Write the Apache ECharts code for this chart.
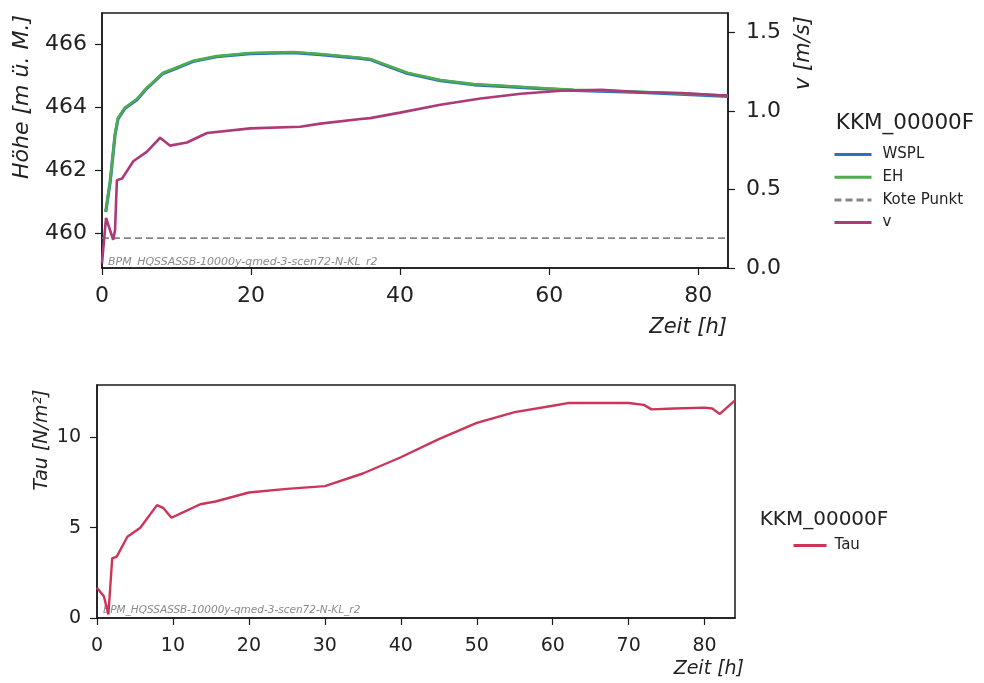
<!DOCTYPE html>
<html><head><meta charset="utf-8">
<script src="https://cdn.jsdelivr.net/npm/echarts@6/dist/echarts.min.js"></script>
<style>html,body{margin:0;padding:0;background:#fff}#c{width:984px;height:683px}</style>
</head><body><div id="c"></div>
<script>
// ---- data ----
var hoursH = [0.5,1.1,1.75,2.15,3.1,4.7,6.0,8.2,9.5,12.2,15.4,19.9,25.7,29.3,34.7,36,37.8,41,45.4,49.9,54.4,58.9,63.3,72.3,79,84];
var wspl   = [460.68,461.64,463.13,463.64,463.98,464.25,464.6,465.08,465.2,465.46,465.61,465.71,465.74,465.68,465.56,465.52,465.36,465.08,464.85,464.72,464.66,464.6,464.54,464.48,464.41,464.35];
var eh     = [460.70,461.67,463.16,463.67,464.0,464.27,464.62,465.1,465.22,465.48,465.63,465.73,465.76,465.7,465.58,465.54,465.38,465.1,464.87,464.74,464.68,464.62,464.56,464.5,464.43,464.37];
var hoursKote = [0,84];
var kote = [459.85,459.85];
var hoursV = [0,0.54,0.8,1.5,1.75,2.0,2.7,4.2,6.0,7.8,9.1,11.4,14.1,19.9,26.6,29.3,34.7,36,40,45.4,50.8,56.2,61.6,67,72.3,77.7,83,84];
var vValues = [0.03,0.32,0.32,0.18,0.24,0.56,0.57,0.68,0.74,0.83,0.78,0.80,0.86,0.89,0.90,0.92,0.95,0.955,0.99,1.04,1.08,1.11,1.13,1.135,1.12,1.115,1.10,1.10];
var hoursTau = [0,0.9,1.5,2.0,2.6,4.0,5.7,7.9,8.7,9.8,11.6,13.6,15.6,20,25,30,35,40,45,50,55,60,62,70,72,73,76,80,81,82,84];
var tau = [1.67,1.2,0.2,3.3,3.4,4.5,5.0,6.25,6.1,5.55,5.9,6.3,6.45,6.95,7.15,7.3,8.0,8.9,9.9,10.8,11.4,11.75,11.9,11.9,11.8,11.55,11.6,11.65,11.6,11.3,12.05];
var ticksH = [460,462,464,466];
var ticksV = [0,0.5,1.0,1.5];
var ticksTau = [0,5,10];
var ticksXTop = [0,20,40,60,80];
var ticksXBot = [0,10,20,30,40,50,60,70,80];
var legendTitle = 'KKM_00000F';
var watermark = 'BPM_HQSSASSB-10000y-qmed-3-scen72-N-KL_r2';

function pairs(xs, ys){ return xs.map(function(x,i){return [x, ys[i]];}); }

var F = 'DejaVu Sans';
var black = '#1a1a1a';
function xAxis(grid, ticks, fs, margin){
  return {type:'value', gridIndex:grid, min:0, max:84,
    axisLine:{show:true, onZero:false, lineStyle:{color:black, width:1.5}},
    axisTick:{show:true, length:7, customValues:ticks, lineStyle:{color:black,width:1.2}},
    axisLabel:{customValues:ticks, fontFamily:F, fontSize:fs, color:'#222', margin:margin},
    splitLine:{show:false}};
}
function yAxis(grid, min, max, ticks, fs, pos, fmt, margin){
  return {type:'value', gridIndex:grid, min:min, max:max, position:pos,
    axisLine:{show:true, onZero:false, lineStyle:{color:black, width:1.5}},
    axisTick:{show:true, length:7, customValues:ticks, lineStyle:{color:black,width:1.2}},
    axisLabel:{customValues:ticks, fontFamily:F, fontSize:fs, color:'#222', margin:margin, formatter:fmt},
    splitLine:{show:false}};
}
var lineBase = {type:'line', showSymbol:false, symbol:'none', animation:false, smooth:false};

var chart = echarts.init(document.getElementById('c'), null, {renderer:'canvas'});
chart.setOption({
  animation:false,
  backgroundColor:'#fff',
  grid:[
    {left:102, top:13, width:626, height:255, show:true, borderColor:black, borderWidth:1.5, backgroundColor:'transparent'},
    {left:97, top:385, width:638, height:233, show:true, borderColor:black, borderWidth:1.5, backgroundColor:'transparent'}
  ],
  xAxis:[ xAxis(0, ticksXTop, 22, 17), xAxis(1, ticksXBot, 19, 19) ],
  yAxis:[
    yAxis(0, 458.9, 467, ticksH, 22, 'left', function(v){return String(v);}, 15),
    yAxis(0, 0, 1.625, ticksV, 22, 'right', function(v){return v.toFixed(1);}, 18),
    yAxis(1, 0, 12.9, ticksTau, 19, 'left', function(v){return String(v);}, 16)
  ],
  legend:[
    {orient:'vertical', left:828, top:142, itemWidth:37, itemHeight:16, itemGap:7.7,
     data:['WSPL','EH','Kote Punkt','v'], itemStyle:{opacity:0}, lineStyle:{width:3},
     textStyle:{fontFamily:F, fontSize:15, color:'#222', padding:[0,0,0,6]}},
    {orient:'vertical', left:787, top:533, itemWidth:33, itemHeight:16,
     data:['Tau'], itemStyle:{opacity:0}, lineStyle:{width:3},
     textStyle:{fontFamily:F, fontSize:15, color:'#222', padding:[0,0,0,3]}}
  ],
  series:[
    Object.assign({}, lineBase, {name:'WSPL', xAxisIndex:0, yAxisIndex:0, data:pairs(hoursH, wspl),
      itemStyle:{color:'#2f6fc0'}, lineStyle:{color:'#2f6fc0', width:3.2}, z:2}),
    Object.assign({}, lineBase, {name:'EH', xAxisIndex:0, yAxisIndex:0, data:pairs(hoursH, eh),
      itemStyle:{color:'#4dac4d'}, lineStyle:{color:'#4dac4d', width:2.6}, z:3}),
    Object.assign({}, lineBase, {name:'Kote Punkt', xAxisIndex:0, yAxisIndex:0, data:pairs(hoursKote, kote),
      itemStyle:{color:'#858585'}, lineStyle:{color:'#858585', width:1.6, type:[7,4]}, z:2}),
    Object.assign({}, lineBase, {name:'v', xAxisIndex:0, yAxisIndex:1, data:pairs(hoursV, vValues),
      itemStyle:{color:'#ad3a78'}, lineStyle:{color:'#ad3a78', width:2.6}, z:4}),
    Object.assign({}, lineBase, {name:'Tau', xAxisIndex:1, yAxisIndex:2, data:pairs(hoursTau, tau),
      itemStyle:{color:'#cc3558'}, lineStyle:{color:'#cc3558', width:2.4}, z:4})
  ],
  graphic:[
    {type:'text', x:22, y:97, rotation:Math.PI/2, style:{text:'Höhe [m ü. M.]', fontFamily:F, fontStyle:'italic', fontSize:22, fill:'#222', align:'center', verticalAlign:'middle'}},
    {type:'text', x:804, y:53, rotation:Math.PI/2, style:{text:'v [m/s]', fontFamily:F, fontStyle:'italic', fontSize:21, fill:'#222', align:'center', verticalAlign:'middle'}},
    {type:'text', x:727, y:328, style:{text:'Zeit [h]', fontFamily:F, fontStyle:'italic', fontSize:21, fill:'#222', align:'right', verticalAlign:'middle'}},
    {type:'text', x:905, y:123, style:{text:legendTitle, fontFamily:F, fontSize:21.5, fill:'#222', align:'center', verticalAlign:'middle'}},
    {type:'text', x:108, y:262, style:{text:watermark, fontFamily:F, fontStyle:'italic', fontSize:11, fill:'#8a8a8a', align:'left', verticalAlign:'middle'}},
    {type:'text', x:42, y:440, rotation:Math.PI/2, style:{text:'Tau [N/m²]', fontFamily:F, fontStyle:'italic', fontSize:19, fill:'#222', align:'center', verticalAlign:'middle'}},
    {type:'text', x:744, y:669, style:{text:'Zeit [h]', fontFamily:F, fontStyle:'italic', fontSize:19, fill:'#222', align:'right', verticalAlign:'middle'}},
    {type:'text', x:824, y:520, style:{text:legendTitle, fontFamily:F, fontSize:20, fill:'#222', align:'center', verticalAlign:'middle'}},
    {type:'text', x:103, y:610, style:{text:watermark, fontFamily:F, fontStyle:'italic', fontSize:10.5, fill:'#8a8a8a', align:'left', verticalAlign:'middle'}}
  ]
});
</script></body></html>
